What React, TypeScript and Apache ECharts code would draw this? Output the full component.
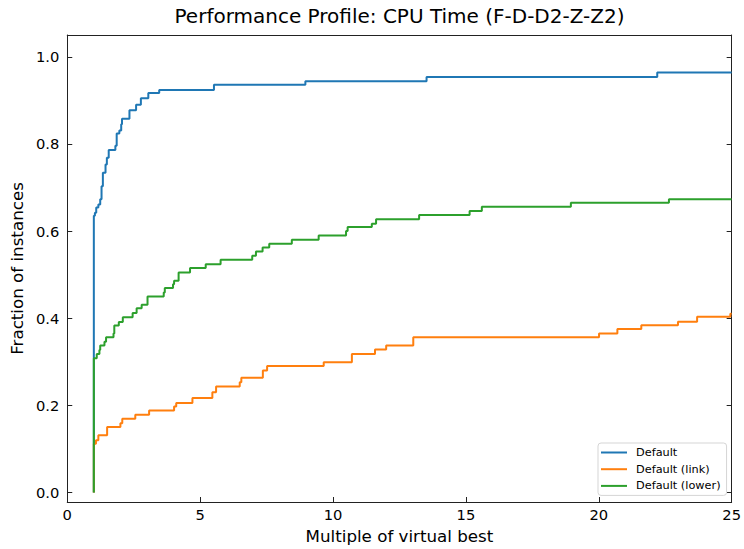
import React, { useEffect, useRef } from "react";
import * as echarts from "echarts";

const seriesNames = ["Default", "Default (link)", "Default (lower)"];

const blueX = [1, 1, 1.04, 1.09, 1.17, 1.24, 1.29, 1.34, 1.44, 1.49, 1.56, 1.81, 1.86, 1.96, 2.03, 2.06, 2.34, 2.59, 2.77, 3.05, 3.46, 5.52, 8.96, 13.52, 22.2, 25];
const blueY = [0, 0.635, 0.642, 0.654, 0.661, 0.673, 0.703, 0.734, 0.753, 0.768, 0.786, 0.796, 0.824, 0.831, 0.845, 0.858, 0.877, 0.89, 0.905, 0.917, 0.924, 0.936, 0.944, 0.9535, 0.964, 0.964];

const orangeX = [1, 1, 1.08, 1.17, 1.5, 2.0, 2.07, 2.56, 3.08, 4.02, 4.1, 4.71, 5.46, 5.6, 6.49, 6.55, 7.36, 7.52, 9.65, 10.71, 11.58, 12.0, 13.02, 20.01, 20.7, 21.6, 22.98, 23.7, 24.95, 25];
const orangeY = [0, 0.112, 0.12, 0.131, 0.15, 0.159, 0.169, 0.178, 0.188, 0.197, 0.205, 0.217, 0.23, 0.243, 0.253, 0.263, 0.28, 0.29, 0.299, 0.318, 0.328, 0.337, 0.356, 0.365, 0.375, 0.384, 0.392, 0.403, 0.41, 0.41];

const greenX = [1, 1, 1.11, 1.21, 1.24, 1.4, 1.46, 1.74, 1.77, 1.94, 2.09, 2.46, 2.61, 2.8, 3.02, 3.63, 3.67, 3.98, 4.02, 4.19, 4.62, 5.21, 5.77, 6.96, 7.1, 7.35, 7.6, 8.45, 9.46, 10.49, 10.55, 11.46, 11.62, 13.24, 15.14, 15.6, 18.95, 22.64, 25];
const greenY = [0, 0.308, 0.318, 0.327, 0.337, 0.346, 0.356, 0.365, 0.383, 0.391, 0.402, 0.412, 0.423, 0.431, 0.45, 0.459, 0.469, 0.478, 0.486, 0.505, 0.515, 0.524, 0.534, 0.543, 0.553, 0.562, 0.571, 0.58, 0.59, 0.6, 0.609, 0.617, 0.627, 0.637, 0.646, 0.656, 0.665, 0.673, 0.673];

const colors = ["#1f77b4", "#ff7f0e", "#2ca02c"];
const yTicks = [0, 0.2, 0.4, 0.6, 0.8, 1.0];
const xTicks = [0, 5, 10, 15, 20, 25];

const zip = (xs: number[], ys: number[]) => xs.map((x, i) => [x, ys[i]]);

export default function App() {
  const ref = useRef<HTMLDivElement>(null);
  useEffect(() => {
    const chart = echarts.init(ref.current!, null, { renderer: "svg" });
    const font = "DejaVu Sans";
    const axisLine = { show: true, onZero: false, lineStyle: { color: "#222", width: 1 } };
    chart.setOption({
      animation: false,
      backgroundColor: "#fff",
      textStyle: { fontFamily: font },
      title: {
        text: "Performance Profile: CPU Time (F-D-D2-Z-Z2)",
        left: 399.5,
        textAlign: "center",
        top: 6,
        padding: 0,
        textStyle: { fontFamily: font, fontSize: 20, fontWeight: "normal", color: "#000" },
      },
      legend: {
        data: seriesNames,
        orient: "vertical",
        left: 598,
        top: 443,
        padding: [3, 6, 3, 3],
        itemWidth: 26,
        itemHeight: 2,
        itemGap: 3.7,
        icon: "rect",
        backgroundColor: "#fff",
        borderColor: "#d5d5d5",
        borderWidth: 1,
        borderRadius: 3,
        textStyle: { fontFamily: font, fontSize: 11.3, color: "#000", lineHeight: 13, padding: [0, 0, 0, 4] },
      },
      grid: { left: 66, right: 11, top: 35, bottom: 45 },
      xAxis: [
        {
          type: "value",
          min: 0,
          max: 25,
          interval: 5,
          name: "Multiple of virtual best",
          nameLocation: "middle",
          nameGap: 25,
          nameTextStyle: { fontFamily: font, fontSize: 16.7, color: "#000" },
          axisLine,
          axisTick: { show: true, inside: true, length: 5, lineStyle: { color: "#222" }, customValues: xTicks },
          axisLabel: { fontFamily: font, fontSize: 14.7, color: "#000", margin: 5, customValues: xTicks },
          splitLine: { show: false },
        },
        {
          type: "value",
          position: "top",
          min: 0,
          max: 25,
          axisLine,
          axisTick: { show: false },
          axisLabel: { show: false },
          splitLine: { show: false },
        },
      ],
      yAxis: [
        {
          type: "value",
          min: -0.022,
          max: 1.05,
          name: "Fraction of instances",
          nameLocation: "middle",
          nameGap: 39,
          nameTextStyle: { fontFamily: font, fontSize: 16.7, color: "#000" },
          axisLine,
          axisTick: { show: true, inside: true, length: 5, lineStyle: { color: "#222" }, customValues: yTicks },
          axisLabel: {
            fontFamily: font,
            fontSize: 14.7,
            color: "#000",
            margin: 8,
            customValues: yTicks,
            formatter: (v: number) => v.toFixed(1),
          },
          splitLine: { show: false },
        },
        {
          type: "value",
          position: "right",
          min: -0.022,
          max: 1.05,
          axisLine,
          axisTick: { show: true, inside: true, length: 5, lineStyle: { color: "#222" }, customValues: yTicks },
          axisLabel: { show: false },
          splitLine: { show: false },
        },
      ],
      series: [
        { name: seriesNames[0], data: zip(blueX, blueY), color: colors[0] },
        { name: seriesNames[1], data: zip(orangeX, orangeY), color: colors[1] },
        { name: seriesNames[2], data: zip(greenX, greenY), color: colors[2] },
      ].map((s) => ({
        ...s,
        type: "line",
        step: "end",
        showSymbol: false,
        symbol: "none",
        xAxisIndex: 0,
        yAxisIndex: 0,
        lineStyle: { width: 2, color: s.color },
        itemStyle: { color: s.color },
      })),
    });
    return () => chart.dispose();
  }, []);
  return (
    <div
      ref={ref}
      style={{ position: "fixed", left: 0, top: 0, width: 744, height: 549, background: "#fff" }}
    />
  );
}
